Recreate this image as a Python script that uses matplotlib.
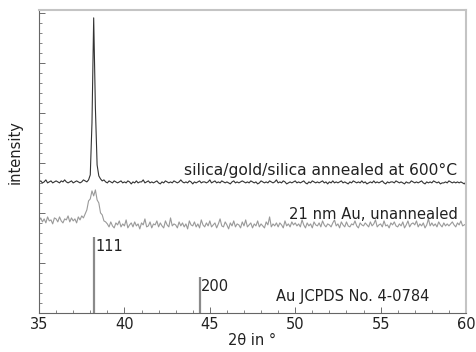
import numpy as np
import matplotlib.pyplot as plt
from matplotlib.ticker import MultipleLocator, NullFormatter

# XRD patterns, sampled every 0.1 deg from 35 to 60 (arbitrary intensity units, offset)
annealed = [
    131, 132, 130, 131, 133, 130, 131, 132, 130, 131,
    132, 131, 130, 132, 131, 133, 131, 130, 131, 132,
    130, 131, 132, 131, 130, 131, 133, 132, 131, 133,
    138, 190, 295, 205, 148, 137, 134,
    132, 133, 131, 130, 132, 131, 130, 132, 131, 130,
    131, 132, 130, 131, 130, 132, 131, 129, 131, 130,
    132, 130, 131, 131, 133, 130, 131, 132, 130, 131,
    130, 131, 132, 130, 129, 131, 130, 132, 131, 130,
    131, 130, 132, 131, 130, 131, 133, 131, 130, 131,
    130, 132, 131, 129, 131, 130, 131, 132, 130, 131,
    131, 130, 131, 133, 130, 131, 132, 130, 131, 130,
    132, 131, 130, 131, 130, 129, 131, 132, 130, 131,
    130, 131, 132, 131, 130, 131, 130, 132, 131, 130,
    131, 129, 130, 132, 131, 130, 131, 130, 132, 131,
    130, 131, 133, 130, 131, 130, 132, 131, 129, 130,
    131, 130, 131, 132, 130, 131, 130, 131, 132, 130,
    129, 131, 130, 132, 131, 130, 131, 130, 131, 132,
    130, 131, 129, 131, 130, 132, 130, 131, 130, 131,
    132, 130, 131, 130, 129, 131, 130, 132, 131, 130,
    131, 130, 132, 130, 131, 129, 130, 131, 130, 132,
    130, 131, 130, 131, 132, 130, 129, 131, 130, 131,
    131, 130, 132, 131, 130, 131, 130, 129, 131, 130,
    130, 132, 131, 130, 131, 130, 131, 132, 130, 129,
    131, 130, 131, 130, 132, 131, 130, 131, 129, 130,
    130, 131, 130, 132, 131, 130, 131, 130, 131, 130,
    131, 130, 129, 131,
]

unannealed = [
    92, 95, 91, 94, 90, 96, 92, 93, 89, 95,
    94, 91, 96, 92, 90, 94, 93, 97, 91, 95,
    92, 94, 90, 96, 93, 97,
    95, 99, 103, 112, 114, 122, 117, 123, 113, 110, 100, 98, 92, 91,
    89, 86, 91, 87, 85, 90, 88, 92, 86, 89,
    87, 93, 85, 88, 90, 86, 91, 87, 89, 84,
    90, 88, 94, 86, 87, 91, 85, 89, 88, 92,
    86, 90, 87, 85, 92, 88, 86, 95, 87, 89,
    88, 85, 91, 87, 90, 86, 89, 84, 92, 88,
    87, 91, 86, 89, 85, 93, 88, 86, 90, 87,
    92, 86, 88, 90, 85, 89, 94, 87, 86, 91,
    88, 84, 90, 87, 92, 86, 89, 88, 85, 91,
    87, 93, 86, 88, 90, 85, 89, 87, 92, 86,
    89, 87, 85, 91, 88, 96, 86, 89, 87, 90,
    86, 90, 88, 85, 92, 87, 89, 86, 91, 88,
    90, 87, 89, 86, 93, 88, 85, 90, 87, 89,
    85, 91, 88, 87, 90, 86, 92, 88, 86, 89,
    88, 86, 90, 93, 87, 89, 85, 91, 88, 86,
    91, 87, 86, 89, 88, 92, 87, 85, 90, 88,
    87, 90, 88, 86, 91, 87, 89, 93, 86, 88,
    89, 86, 92, 87, 88, 85, 90, 88, 91, 87,
    86, 89, 87, 91, 85, 88, 92, 86, 89, 90,
    88, 92, 86, 89, 87, 90, 85, 88, 94, 87,
    90, 87, 89, 86, 91, 88, 86, 90, 87, 89,
    87, 89, 91, 88, 86, 90, 88, 92, 87, 88,
    89,
]

# reference pattern (Au JCPDS No. 4-0784)
ref_pos = [38.2, 44.4]
ref_height = [76, 36]
ref_hkl = ['111', '200']

two_theta = np.linspace(35, 60, len(annealed))

fig = plt.figure(figsize=(4.76, 3.52), dpi=100)
ax = fig.add_axes([0.082, 0.111, 0.897, 0.861])

ax.plot(two_theta, annealed, color='#333333', lw=0.8)
ax.plot(two_theta, unannealed, color='#9a9a9a', lw=0.8)
ax.vlines(ref_pos, 0, ref_height, color='#8a8a8a', lw=1.6)

for p, h, lab in zip(ref_pos, ref_height, ref_hkl):
    ax.text(p + 0.1, h - 10, lab, fontsize=10.5, ha='left', va='center', color='#222222')

ax.text(59.5, 142, 'silica/gold/silica annealed at 600°C', fontsize=11.2,
        ha='right', va='center', color='#222222')
ax.text(59.5, 98, '21 nm Au, unannealed', fontsize=10.6,
        ha='right', va='center', color='#222222')
ax.text(57.85, 16, 'Au JCPDS No. 4-0784', fontsize=10.5,
        ha='right', va='center', color='#222222')

ax.set_xlim(35, 60)
ax.set_ylim(0, 303)
ax.xaxis.set_major_locator(MultipleLocator(5))
ax.xaxis.set_minor_locator(MultipleLocator(1))
ax.yaxis.set_major_locator(MultipleLocator(50))
ax.yaxis.set_minor_locator(MultipleLocator(10))
ax.yaxis.set_major_formatter(NullFormatter())
ax.tick_params(which='major', direction='in', length=4, width=0.6, color='#555555',
               labelsize=10.5, labelcolor='#222222', pad=3)
ax.tick_params(which='minor', direction='in', length=2, width=0.5, color='#555555')
ax.tick_params(axis='y', which='both', left=True, right=False)
ax.tick_params(axis='x', which='both', top=False)

for s in ['top', 'right']:
    ax.spines[s].set_color('#c4c4c4')
    ax.spines[s].set_linewidth(1.5)
for s in ['left', 'bottom']:
    ax.spines[s].set_color('#666666')
    ax.spines[s].set_linewidth(0.8)

ax.set_xlabel('2θ in °', fontsize=10.5, color='#222222', labelpad=1)
ax.set_ylabel('intensity', fontsize=10.5, color='#222222')
ax.yaxis.set_label_coords(-0.038, 0.53)

plt.savefig('out.png', dpi=100)
